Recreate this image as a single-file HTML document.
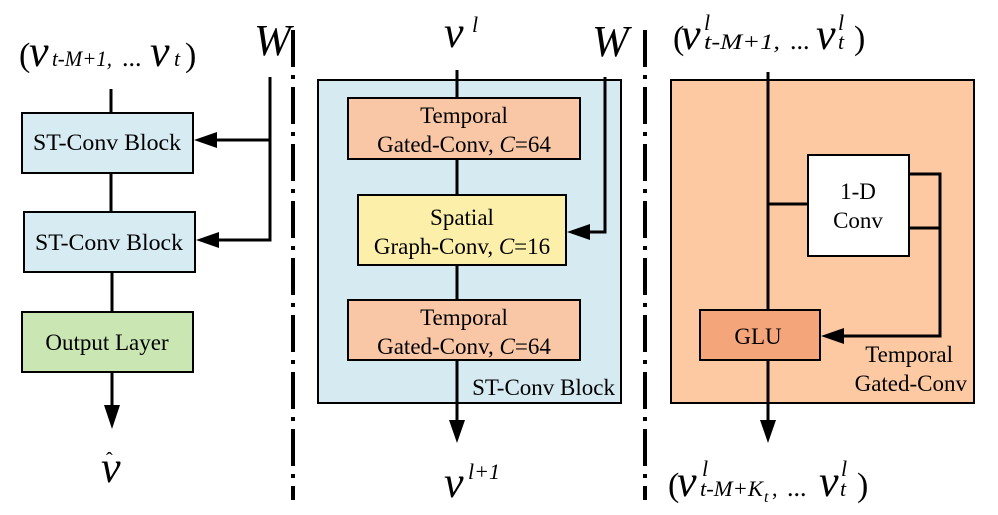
<!DOCTYPE html>
<html><head><meta charset="utf-8"><style>
html,body{margin:0;padding:0;background:#fff;}
svg{display:block;}
text{font-family:"Liberation Serif",serif;fill:#000;}
.b{font-size:23px;}
.v{font-size:44px;font-style:italic;}
.i{font-style:italic;}
</style></head><body>
<svg width="998" height="515" viewBox="0 0 998 515" xmlns="http://www.w3.org/2000/svg">
<g stroke="#000" stroke-width="3" fill="none">
<line x1="111" y1="89" x2="111" y2="113"/>
<line x1="111" y1="173" x2="111" y2="212"/>
<line x1="112" y1="272" x2="112" y2="312"/>
<line x1="112" y1="372" x2="112" y2="408"/>
<polyline points="270,77 270,140 214,140"/>
<polyline points="270,140 270,240 216,240"/>
<line x1="293" y1="30" x2="293" y2="500" stroke-width="4" stroke-dasharray="37 8 4 8"/>
<line x1="645" y1="30" x2="645" y2="500" stroke-width="4" stroke-dasharray="37 8 4 8"/>
</g>
<g fill="#000">
<polygon points="194,140 217,132 217,148"/>
<polygon points="196,240 219,232 219,248"/>
<polygon points="112,429 104,405 120,405"/>
</g>
<g stroke="#000" stroke-width="2">
<rect x="22" y="113" width="171" height="60" fill="#d7ebf3"/>
<rect x="24" y="212" width="171" height="60" fill="#d7ebf3"/>
<rect x="22" y="312" width="171" height="60" fill="#c9e6b3"/>
<rect x="318" y="80" width="303" height="323" fill="#d6eaf2"/>
</g>
<g stroke="#000" stroke-width="3" fill="none">
<line x1="457" y1="70" x2="457" y2="98"/>
<line x1="457" y1="159" x2="457" y2="195"/>
<line x1="457" y1="265" x2="457" y2="300"/>
<line x1="457" y1="360" x2="457" y2="422"/>
<polyline points="605,77 605,232 588,232"/>
</g>
<g fill="#000">
<polygon points="457,443 449,420 465,420"/>
<polygon points="567,232 590,224 590,240"/>
</g>
<g stroke="#000" stroke-width="2">
<rect x="348" y="98" width="232" height="61" fill="#f9c7a5"/>
<rect x="358" y="195" width="208" height="70" fill="#fcefa9"/>
<rect x="348" y="300" width="232" height="60" fill="#f9c7a5"/>
<rect x="671" y="80" width="303" height="323" fill="#fcc9a3"/>
</g>
<g stroke="#000" stroke-width="3" fill="none">
<line x1="768" y1="72" x2="768" y2="310"/>
<line x1="768" y1="360" x2="768" y2="422"/>
<line x1="768" y1="204" x2="808" y2="204"/>
<polyline points="909,174 940,174 940,336 842,336"/>
<line x1="909" y1="228" x2="940" y2="228"/>
</g>
<g fill="#000">
<polygon points="768,443 760,420 776,420"/>
<polygon points="821,336 844,328 844,344"/>
</g>
<g stroke="#000" stroke-width="2">
<rect x="808" y="155" width="101" height="101" fill="#fff"/>
<rect x="700" y="310" width="120" height="50" fill="#f5a57a"/>
</g>
<g class="b" text-anchor="middle">
<text x="107" y="150" textLength="148" lengthAdjust="spacingAndGlyphs">ST-Conv Block</text>
<text x="109" y="250" textLength="148" lengthAdjust="spacingAndGlyphs">ST-Conv Block</text>
<text x="107" y="350">Output Layer</text>
<text x="464" y="123">Temporal</text>
<text x="464" y="152">Gated-Conv, <tspan class="i">C</tspan>=64</text>
<text x="462" y="225">Spatial</text>
<text x="462" y="254">Graph-Conv, <tspan class="i">C</tspan>=16</text>
<text x="464" y="325">Temporal</text>
<text x="464" y="354">Gated-Conv, <tspan class="i">C</tspan>=64</text>
<text x="858" y="199">1-D</text>
<text x="858" y="228">Conv</text>
<text x="758" y="344">GLU</text>
</g>
<g class="b" text-anchor="end">
<text x="615" y="395">ST-Conv Block</text>
<text x="953" y="362">Temporal</text>
<text x="967" y="391">Gated-Conv</text>
</g>
<text x="19" y="66" font-size="34">(</text>
<text class="v" x="29" y="66">v</text>
<text class="i" x="52" y="66" font-size="22" textLength="60" lengthAdjust="spacingAndGlyphs">t-M+1,</text>
<text x="122" y="66" font-size="26">...</text>
<text class="v" x="150" y="66">v</text>
<text class="i" x="174" y="66" font-size="22">t</text>
<text x="185" y="66" font-size="34">)</text>
<text class="v" x="254" y="55" font-size="40">W</text>
<text class="v" x="101" y="482" font-size="40">v</text>
<text x="106" y="466" font-size="20">ˆ</text>
<text class="v" x="444" y="47">v</text>
<text class="i" x="472" y="32" font-size="22">l</text>
<text class="v" x="592" y="56" font-size="40">W</text>
<text class="v" x="444" y="497">v</text>
<text class="i" x="468" y="479" font-size="22">l+1</text>
<text x="673" y="49" font-size="34">(</text>
<text class="v" x="681" y="49">v</text>
<text class="i" x="704" y="30" font-size="22">l</text>
<text class="i" x="704" y="49" font-size="22" textLength="76" lengthAdjust="spacingAndGlyphs">t-M+1,</text>
<text x="790" y="49" font-size="26">...</text>
<text class="v" x="816" y="49">v</text>
<text class="i" x="838" y="30" font-size="22">l</text>
<text class="i" x="838" y="49" font-size="22">t</text>
<text x="854" y="49" font-size="34">)</text>
<text x="668" y="496" font-size="34">(</text>
<text class="v" x="677" y="496">v</text>
<text class="i" x="702" y="476" font-size="22">l</text>
<text class="i" x="700" y="496" font-size="22" textLength="63" lengthAdjust="spacingAndGlyphs">t-M+K</text>
<text class="i" x="764" y="502" font-size="16">t</text>
<text x="772" y="496" font-size="22">,</text>
<text x="787" y="496" font-size="26">...</text>
<text class="v" x="819" y="496">v</text>
<text class="i" x="841" y="476" font-size="22">l</text>
<text class="i" x="840" y="496" font-size="22">t</text>
<text x="857" y="496" font-size="34">)</text>
</svg>
</body></html>
